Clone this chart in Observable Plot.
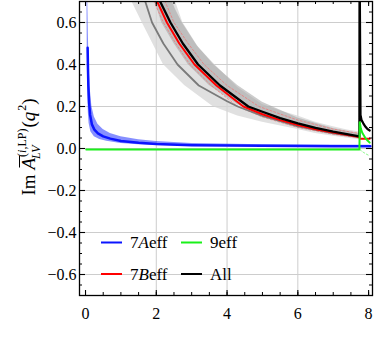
<!DOCTYPE html>
<html><head><meta charset="utf-8">
<script src="https://cdn.jsdelivr.net/npm/d3@7"></script>
<script src="https://cdn.jsdelivr.net/npm/@observablehq/plot@0.6"></script>
<style>
body{margin:0;background:#fff}
#chart{width:375px;height:360px}
#chart svg, #chart svg text{font-family:"Liberation Serif","DejaVu Serif",serif !important;}
</style>
</head><body><div id="chart"></div>
<script>
// ---- axis ticks ----
const xTicks = [0, 2, 4, 6, 8];
const xGrid = [2, 4, 6];
const yTicks = [-0.6, -0.4, -0.2, 0, 0.2, 0.4, 0.6];
const xMinor = d3.range(0, 8.001, 0.5);
const yMinor = d3.range(-13, 14).map(i => i * 0.05);

// ---- 7Aeff (blue) ----
const blueQ = [0.06, 0.07, 0.08, 0.1, 0.13, 0.18, 0.25, 0.35, 0.5, 0.7, 1.0, 1.5, 2, 3, 4, 5, 6, 7, 8.05];
const blueV = [0.48, 0.38, 0.30, 0.22, 0.16, 0.115, 0.09, 0.072, 0.058, 0.047, 0.036, 0.027, 0.021, 0.016, 0.014, 0.013, 0.012, 0.011, 0.011];
const blueUpQ = [0.06, 0.08, 0.1, 0.13, 0.18, 0.25, 0.35, 0.5, 0.7, 1.0, 1.5, 2, 3, 5, 8.05];
const blueUpV = [0.75, 0.55, 0.40, 0.29, 0.20, 0.15, 0.115, 0.09, 0.072, 0.056, 0.042, 0.033, 0.024, 0.018, 0.015];
const blueLoQ = [0.04, 0.05, 0.06, 0.08, 0.1, 0.15, 0.25, 0.4, 0.6, 1.0, 1.5, 2, 3, 5, 8.05];
const blueLoV = [0.75, 0.45, 0.30, 0.17, 0.12, 0.08, 0.056, 0.043, 0.034, 0.024, 0.018, 0.014, 0.011, 0.009, 0.008];

// ---- 9eff (green) ----
const greenQ = [0.02, 7.74, 7.75, 7.78, 7.82, 7.9, 7.97, 8.03];
const greenV = [-0.005, -0.005, 0.125, 0.095, 0.075, 0.052, 0.038, 0.028];
const greenEdgeQ = [7.75, 7.85, 7.95, 8.03];
const greenEdgeV = [-0.005, -0.018, -0.028, -0.035];

// ---- 7Beff (red) ----
const redQ = [1.97, 2.3, 2.65, 3.08, 3.7, 4.46, 5, 5.5, 6, 6.5, 7, 7.5, 7.74, 7.75, 8.03];
const redV = [0.72, 0.6, 0.5, 0.4, 0.3, 0.2, 0.163, 0.135, 0.112, 0.092, 0.076, 0.062, 0.055, 0.046, 0.046];
const redEdgeLoQ = [1.88, 2.2, 2.55, 2.95, 3.55, 4.3, 5, 6, 7, 7.74];
const redEdgeLoV = [0.72, 0.6, 0.5, 0.4, 0.3, 0.2, 0.15, 0.1, 0.068, 0.05];
const redEdgeUpQ = [2.2, 2.5, 2.9, 3.35, 4.0, 4.9, 6, 7, 7.74];
const redEdgeUpV = [0.72, 0.6, 0.5, 0.4, 0.3, 0.2, 0.135, 0.092, 0.072];

// ---- All (black) with bands ----
const allQ = [2.05, 2.4, 2.75, 3.18, 3.8, 4.6, 5, 5.5, 6, 6.5, 7, 7.5, 7.74, 7.745, 7.77, 7.8, 7.85, 7.9, 7.95, 8.0, 8.03];
const allV = [0.72, 0.6, 0.5, 0.4, 0.3, 0.2, 0.175, 0.145, 0.12, 0.098, 0.08, 0.065, 0.058, 0.9, 0.16, 0.135, 0.12, 0.106, 0.096, 0.089, 0.086];
const grayQ = [1.65, 1.88, 2.2, 2.6, 3.2, 4.0, 4.3, 5, 6, 7, 7.74];
const grayV = [0.72, 0.6, 0.5, 0.4, 0.3, 0.225, 0.2, 0.155, 0.105, 0.072, 0.054];
const lightUpQ = [2.5, 2.75, 3.2, 3.65, 4.3, 5.0, 5.5, 6, 6.5, 7, 7.4, 7.74];
const lightUpV = [0.72, 0.6, 0.48, 0.4, 0.29, 0.21, 0.18, 0.155, 0.125, 0.103, 0.088, 0.078];
const lightLoQ = [1.25, 1.6, 1.9, 2.2, 2.8, 3.6, 4.3, 5, 6, 6.5, 7, 7.74];
const lightLoV = [0.72, 0.6, 0.5, 0.4, 0.3, 0.2, 0.155, 0.125, 0.09, 0.072, 0.058, 0.042];
const darkUpQ = [2.4, 2.55, 2.73, 3.15, 3.62, 4.3, 5, 6, 7, 7.74];
const darkUpV = [0.72, 0.66, 0.6, 0.49, 0.4, 0.3, 0.22, 0.145, 0.095, 0.07];
const darkLoQ = [1.93, 2.15, 2.5, 2.9, 3.5, 4.3, 5, 6, 7, 7.74];
const darkLoV = [0.72, 0.6, 0.5, 0.4, 0.3, 0.21, 0.16, 0.105, 0.07, 0.052];

// ---- legend ----
const legendParts = [["7", "A", "eff"], ["9eff"], ["7", "B", "eff"], ["All"]];
const legendColors = ["#0b14ff", "#19f019", "#ff0000", "#000000"];

const pts = (xs, ys) => xs.map((x, i) => ({x, y: ys[i]}));
const band = (ux, uy, lx, ly) => ux.map((_, i) => ({x1: ux[i], y1: uy[i], x2: lx[i], y2: ly[i]}));

const W = 375, H = 360, mL = 79, mR = 3, mT = 1, mB = 65;
const iH = H - mT - mB, iW = W - mL - mR;
const font = "'Liberation Serif', 'DejaVu Serif', serif";

const chart = Plot.plot({
  width: W, height: H, marginLeft: mL, marginRight: mR, marginTop: mT, marginBottom: mB,
  style: {fontFamily: font, fontSize: "16px", background: "white", color: "black"},
  x: {domain: [-0.17, 8.11], ticks: xTicks, tickSize: 0, tickPadding: 12, tickFormat: d => String(d), label: null},
  y: {domain: [-0.7, 0.7], ticks: yTicks, tickSize: 0, tickPadding: 3,
      tickFormat: d => (d < 0 ? "\u2212" : "") + Math.abs(d).toFixed(1), label: null},
  marks: [
    Plot.ruleX(xGrid, {stroke: "#cdcdcd", strokeWidth: 1}),
    Plot.ruleY(yTicks, {stroke: "#cdcdcd", strokeWidth: 1}),
    Plot.area(band(lightUpQ, lightUpV, lightLoQ, lightLoV), {x1: "x1", y1: "y1", x2: "x2", y2: "y2", fill: "#d6d6d6", fillOpacity: 0.75, clip: true}),
    Plot.area(band(darkUpQ, darkUpV, darkLoQ, darkLoV), {x1: "x1", y1: "y1", x2: "x2", y2: "y2", fill: "#a2a2a2", fillOpacity: 0.55, clip: true}),
    Plot.line(pts(redEdgeLoQ, redEdgeLoV), {x: "x", y: "y", stroke: "#ff6060", strokeOpacity: 0.6, strokeWidth: 1, strokeDasharray: "2,2", clip: true}),
    Plot.line(pts(redEdgeUpQ, redEdgeUpV), {x: "x", y: "y", stroke: "#ff6060", strokeOpacity: 0.6, strokeWidth: 1, strokeDasharray: "2,2", clip: true}),
    Plot.line(pts(grayQ, grayV), {x: "x", y: "y", stroke: "#7a7a7a", strokeWidth: 1.8, clip: true}),
    Plot.line(pts(redQ, redV), {x: "x", y: "y", stroke: "#ff0000", strokeWidth: 2, clip: true}),
    Plot.line(pts(allQ, allV), {x: "x", y: "y", stroke: "#000", strokeWidth: 2.3, clip: true}),
    Plot.area(band(blueUpQ, blueUpV, blueLoQ, blueLoV), {x1: "x1", y1: "y1", x2: "x2", y2: "y2", fill: "#2233ff", fillOpacity: 0.55, clip: true}),
    Plot.line(pts(blueQ, blueV), {x: "x", y: "y", stroke: "#0b14ff", strokeWidth: 2.5, clip: true}),
    Plot.line(pts(greenEdgeQ, greenEdgeV), {x: "x", y: "y", stroke: "#19f019", strokeOpacity: 0.5, strokeWidth: 1, strokeDasharray: "2,2", clip: true}),
    Plot.line(pts(greenQ, greenV), {x: "x", y: "y", stroke: "#19f019", strokeWidth: 2, clip: true}),
    Plot.frame({stroke: "#000", strokeWidth: 1.3}),
    Plot.ruleX(xTicks, {insetTop: iH - 5, stroke: "#000", strokeWidth: 1.1}),
    Plot.ruleX(xTicks, {insetBottom: iH - 5, stroke: "#000", strokeWidth: 1.1}),
    Plot.ruleX(xMinor, {insetTop: iH - 3, stroke: "#000", strokeWidth: 1}),
    Plot.ruleX(xMinor, {insetBottom: iH - 3, stroke: "#000", strokeWidth: 1}),
    Plot.ruleY(yTicks, {insetRight: iW - 6, stroke: "#000", strokeWidth: 1.1}),
    Plot.ruleY(yTicks, {insetLeft: iW - 6, stroke: "#000", strokeWidth: 1.1}),
    Plot.ruleY(yMinor, {insetRight: iW - 3, stroke: "#000", strokeWidth: 1}),
    Plot.ruleY(yMinor, {insetLeft: iW - 3, stroke: "#000", strokeWidth: 1})
  ]
});
document.getElementById("chart").appendChild(chart);

const svg = d3.select(chart);

// ---- y label ----
const g = svg.append("g").attr("transform", "translate(35,147) rotate(-90)")
  .attr("font-family", font).attr("fill", "black").attr("text-anchor", "start");
const lab = g.append("g");
let cx = 0;
function piece(t, size, italic, dy, advance = true) {
  const el = lab.append("text").attr("x", cx).attr("y", dy).attr("font-size", size)
    .attr("text-anchor", "start")
    .attr("font-style", italic ? "italic" : "normal").text(t);
  const w = el.node().getComputedTextLength();
  if (advance) cx += w;
  return w;
}
piece("Im", 19, false, 0);
cx += 5;
const xA = cx;
const wA = piece("A", 19, true, 0);
lab.append("line").attr("x1", xA + 2).attr("x2", xA + wA + 2).attr("y1", -15.5).attr("y2", -15.5)
  .attr("stroke", "black").attr("stroke-width", 1);
const sx = cx + 1;
cx = sx;
piece("(", 12, false, -9); piece("i", 12, true, -9); piece(",LP)", 12, false, -9);
const supEnd = cx;
cx = sx - 2;
piece("LV", 12, true, 5);
cx = Math.max(cx, supEnd) + 1;
piece("(", 19, false, 0); piece("q", 19, true, 0); cx += 1; piece("2", 12, false, -9); piece(")", 19, false, 0);
lab.attr("transform", `translate(${-cx / 2},0)`);

// ---- legend ----
const colX = [101, 181], rowY = [242.5, 274];
legendParts.forEach((parts, i) => {
  const lx = colX[i % 2], ly = rowY[Math.floor(i / 2)];
  svg.append("line").attr("x1", lx).attr("x2", lx + 21).attr("y1", ly).attr("y2", ly)
    .attr("stroke", legendColors[i]).attr("stroke-width", 2);
  const t = svg.append("text").attr("x", lx + 29).attr("y", ly + 5.5).attr("font-family", font)
    .attr("text-anchor", "start").attr("font-size", 17).attr("fill", "black");
  parts.forEach((p, j) => t.append("tspan").attr("font-style", parts.length === 3 && j === 1 ? "italic" : "normal").text(p));
});
</script></body></html>
